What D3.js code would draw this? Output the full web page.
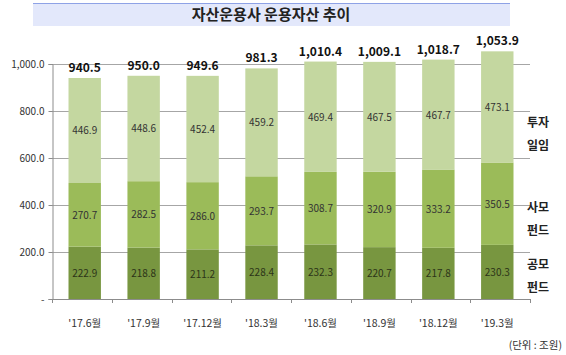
<!DOCTYPE html>
<html>
<head>
<meta charset="utf-8">
<script src="https://cdn.jsdelivr.net/npm/d3@7"></script>
<style>
  body { margin: 0; background: #fff; font-family: "Noto Sans CJK KR", "Noto Sans", sans-serif; }
  svg text { font-family: "Noto Sans CJK KR", "Noto Sans", sans-serif; }
</style>
</head>
<body>
<div id="chart-area"></div>
<script>
// data
let periods = ["'17.6월", "'17.9월", "'17.12월", "'18.3월", "'18.6월", "'18.9월", "'18.12월", "'19.3월"];
let publicFund = [222.9, 218.8, 211.2, 228.4, 232.3, 220.7, 217.8, 230.3];
let privateFund = [270.7, 282.5, 286.0, 293.7, 308.7, 320.9, 333.2, 350.5];
let discretionary = [446.9, 448.6, 452.4, 459.2, 469.4, 467.5, 467.7, 473.1];
let totals = [940.5, 950.0, 949.6, 981.3, 1010.4, 1009.1, 1018.7, 1053.9];
let yTicks = [0, 200, 400, 600, 800, 1000];
let seriesKeys = ["pub", "priv", "disc"];
let seriesNames = [["공모", "펀드"], ["사모", "펀드"], ["투자", "일임"]];

let W = 566, H = 355;
let svg = d3.select("#chart-area").append("svg")
	.attr("width", W)
	.attr("height", H);

// title band
svg.append("rect").attr("x", 33).attr("y", 3).attr("width", 477).attr("height", 23).attr("fill", "#e3e8fb");
svg.append("line").attr("x1", 33).attr("x2", 510).attr("y1", 3.5).attr("y2", 3.5).attr("stroke", "#8ea2e6").attr("stroke-width", 1);
svg.append("text").attr("x", 271).attr("y", 20).attr("text-anchor", "middle")
	.style("font-size", "15px").style("font-weight", "bold").attr("fill", "#222")
	.text("자산운용사 운용자산 추이");

let left = 52, right = 530, bottom = 299;

let x = d3.scaleBand().domain(periods).range([left, right]).paddingInner(0.45).paddingOuter(0.28);
let y = d3.scaleLinear().domain([0, 1000]).range([bottom, 64]);

let colors = {pub: "#789640", priv: "#9bbb59", disc: "#c4d7a0"};

// gridlines
svg.append("g").selectAll("line").data(yTicks.slice(1)).join("line")
	.attr("x1", left).attr("x2", right)
	.attr("y1", d => Math.round(y(d)) + 0.5).attr("y2", d => Math.round(y(d)) + 0.5)
	.attr("stroke", "#a6a6a6");

// stacked data
let table = periods.map((p, i) => ({period: p, pub: publicFund[i], priv: privateFund[i], disc: discretionary[i], total: totals[i]}));
let stack = d3.stack().keys(seriesKeys)(table);

let layers = svg.append("g").selectAll("g").data(stack).join("g")
	.attr("fill", d => colors[d.key]);
layers.selectAll("rect").data(d => d).join("rect")
	.attr("x", d => x(d.data.period))
	.attr("width", x.bandwidth())
	.attr("y", d => y(d[1]))
	.attr("height", d => y(d[0]) - y(d[1]));

// segment labels
svg.append("g").selectAll("g").data(stack).join("g")
	.selectAll("text").data(d => d.map(v => ({v: v, key: d.key}))).join("text")
	.attr("x", d => x(d.v.data.period) + x.bandwidth() / 2)
	.attr("y", d => (y(d.v[0]) + y(d.v[1])) / 2 + 4)
	.attr("text-anchor", "middle")
	.style("font-size", "10px")
	.attr("fill", d => d.key == "pub" ? "#2c3418" : "#333")
	.text(d => d3.format(".1f")(d.v.data[d.key]));

// totals
svg.append("g").selectAll("text").data(table).join("text")
	.attr("x", d => x(d.period) + x.bandwidth() / 2)
	.attr("y", d => y(d.total) - 6)
	.attr("text-anchor", "middle")
	.style("font-size", "12px").style("font-weight", "bold").attr("fill", "#111")
	.text(d => d3.format(",.1f")(d.total));

// y axis
let yAxis = svg.append("g")
	.attr("transform", "translate(" + (left + 0.5) + ",0)")
	.call(d3.axisLeft(y).tickValues(yTicks).tickSize(4).tickFormat(d => d == 0 ? "-" : d3.format(",.1f")(d)));
yAxis.select(".domain").attr("stroke", "#8c8c8c");
yAxis.selectAll(".tick line").attr("stroke", "#8c8c8c");
yAxis.selectAll("text").style("font-size", "10px").attr("fill", "#333").attr("x", -8);

// x axis
svg.append("line").attr("x1", left).attr("x2", right).attr("y1", bottom + 0.5).attr("y2", bottom + 0.5).attr("stroke", "#8c8c8c");
let step = x.step();
svg.append("g").selectAll("line").data(d3.range(periods.length + 1)).join("line")
	.attr("x1", d => Math.round(left + (right - left) * d / periods.length) + 0.5)
	.attr("x2", d => Math.round(left + (right - left) * d / periods.length) + 0.5)
	.attr("y1", bottom).attr("y2", bottom + 4)
	.attr("stroke", "#8c8c8c");
svg.append("g").selectAll("text").data(periods).join("text")
	.attr("x", d => x(d) + x.bandwidth() / 2)
	.attr("y", 327)
	.attr("text-anchor", "middle")
	.style("font-size", "10.5px").attr("fill", "#333")
	.text(d => d);

// series labels at right
let labelY = {disc: [123, 146], priv: [208, 231], pub: [265, 288]};
seriesKeys.forEach((k, i) => {
	seriesNames[i].forEach((s, j) => {
		svg.append("text").attr("x", 538).attr("y", labelY[k][j] + 4)
			.attr("text-anchor", "middle")
			.style("font-size", "12px").style("font-weight", "bold").attr("fill", "#222")
			.text(s);
	});
});

// unit
svg.append("text").attr("x", 562).attr("y", 349).attr("text-anchor", "end")
	.style("font-size", "10.5px").attr("fill", "#333").text("(단위 : 조원)");
</script>
</body>
</html>
